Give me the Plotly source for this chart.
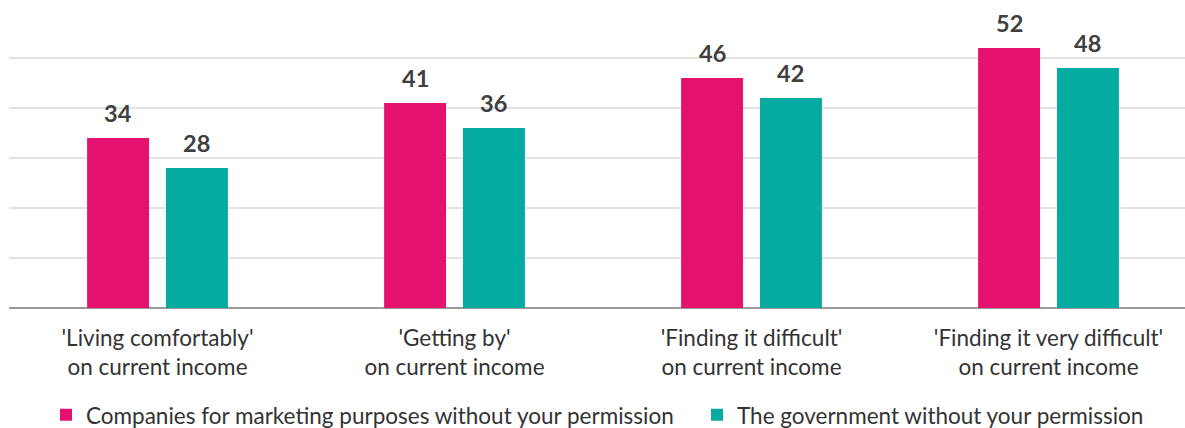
import plotly.graph_objects as go

categories = ["'Living comfortably'<br>on current income",
              "'Getting by'<br>on current income",
              "'Finding it difficult'<br>on current income",
              "'Finding it very difficult'<br>on current income"]
companies = [34, 41, 46, 52]
government = [28, 36, 42, 48]
series_names = ["Companies for marketing purposes without your permission",
                "The government without your permission"]
colors = ["#E4126E", "#05AAA0"]

idx = list(range(len(categories)))
bar_w = 0.2085
offsets = [-0.237, 0.0286]
legend_ids = ["legend", "legend2"]
font = "Lato"

fig = go.Figure()
for vals, name, col, off, lg in zip([companies, government], series_names, colors, offsets, legend_ids):
    fig.add_trace(go.Bar(x=idx, y=vals, name=name, marker_color=col,
                         width=bar_w, offset=off, marker_line_width=0, legend=lg))
    for i, v in zip(idx, vals):
        fig.add_annotation(x=i + off + bar_w / 2, y=v, text=f"<b>{v}</b>",
                           showarrow=False, yanchor="bottom", yshift=9,
                           font=dict(family=font, size=23.5, color="#404040"))

legend_style = dict(orientation="h", xanchor="left", y=-0.357, yanchor="middle",
                    font=dict(family=font, size=22.5, color="#333333"), itemclick=False)
fig.update_layout(
    width=1185, height=428, barmode="overlay",
    margin=dict(l=9, r=0, t=8, b=120, autoexpand=False),
    plot_bgcolor="white", paper_bgcolor="white",
    font=dict(family=font, size=22.5, color="#333333"),
    showlegend=True,
    legend=dict(x=(46 - 9) / 1176, **legend_style),
    legend2=dict(x=(697 - 9) / 1176, **legend_style),
)
fig.update_xaxes(range=[-0.5, 3.4596], tickvals=idx, ticktext=categories,
                 showgrid=False, showline=False, zeroline=False, ticks="",
                 ticklabelstandoff=14, automargin=False,
                 tickfont=dict(family=font, size=22.5, color="#333333"))
fig.update_yaxes(range=[0, 60], dtick=10, showticklabels=False, showgrid=True,
                 gridcolor="#E3E3E3", gridwidth=2, zeroline=True,
                 zerolinecolor="#999999", zerolinewidth=2, showline=False)

fig.write_html("out.html")
